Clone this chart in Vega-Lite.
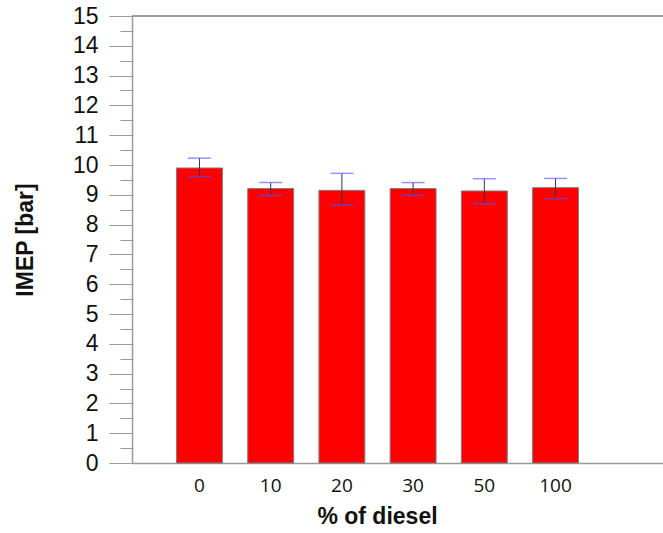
{
  "$schema": "https://vega.github.io/schema/vega-lite/v6.json",
  "autosize": "none",
  "width": 531,
  "height": 447,
  "padding": {"left": 132, "top": 16, "right": 0, "bottom": 70},
  "background": "white",
  "config": {"view": {"stroke": null}},
  "data": {"values": [
    {"pct": "0", "imep": 9.90, "lo": 9.61, "hi": 10.23},
    {"pct": "10", "imep": 9.21, "lo": 8.98, "hi": 9.41},
    {"pct": "20", "imep": 9.15, "lo": 8.65, "hi": 9.72},
    {"pct": "30", "imep": 9.21, "lo": 8.98, "hi": 9.41},
    {"pct": "50", "imep": 9.13, "lo": 8.70, "hi": 9.54},
    {"pct": "100", "imep": 9.24, "lo": 8.87, "hi": 9.55}
  ]},
  "encoding": {
    "x": {
      "field": "pct", "type": "ordinal", "sort": null,
      "scale": {"paddingInner": 0.355, "paddingOuter": 0.906, "align": 0.345},
      "axis": {
        "title": "% of diesel", "labelAngle": 0, "ticks": false,
        "domainColor": "#9a9a9a", "domainWidth": 1.5,
        "labelFont": "Open Sans", "labelFontSize": 19, "labelColor": "#111", "labelPadding": 13,
        "titleFont": "Liberation Sans", "titleFontSize": 23, "titleFontWeight": "bold", "titleColor": "#111",
        "titlePadding": 10, "titleX": 245
      }
    }
  },
  "layer": [
    {
      "mark": {"type": "rule", "color": "#9a9a9a", "strokeWidth": 2},
      "encoding": {"y": {"datum": 15, "type": "quantitative", "scale": {"domain": [0, 15], "nice": false}, "axis": null}, "x": null}
    },
    {
      "mark": {"type": "bar", "color": "#ff0000", "stroke": "#7f7f7f", "strokeWidth": 1},
      "encoding": {
        "y": {
          "field": "imep", "type": "quantitative",
          "scale": {"domain": [0, 15], "nice": false},
          "axis": {
            "title": "IMEP [bar]", "values": [0,1,2,3,4,5,6,7,8,9,10,11,12,13,14,15],
            "grid": false, "tickSize": 23, "tickColor": "#9a9a9a", "domainColor": "#9a9a9a", "domainWidth": 1.5,
            "labelFont": "Liberation Sans", "labelFontSize": 23, "labelColor": "#111", "labelPadding": 11,
            "titleFont": "Liberation Sans", "titleFontSize": 23, "titleFontWeight": "bold", "titleColor": "#111",
            "titlePadding": 35
          }
        }
      }
    },
    {
      "mark": {"type": "rule", "color": "#333355", "strokeWidth": 1},
      "encoding": {
        "y": {"field": "lo", "type": "quantitative", "axis": {"orient": "left", "title": null, "labels": false, "domain": false, "grid": false, "tickSize": 12, "tickColor": "#9a9a9a", "values": [0.5,1.5,2.5,3.5,4.5,5.5,6.5,7.5,8.5,9.5,10.5,11.5,12.5,13.5,14.5]}},
        "y2": {"field": "hi"}
      }
    },
    {
      "mark": {"type": "tick", "orient": "horizontal", "size": 23, "thickness": 1.5, "color": "#6666ff"},
      "encoding": {"y": {"field": "hi", "type": "quantitative", "axis": null}}
    },
    {
      "mark": {"type": "tick", "orient": "horizontal", "size": 23, "thickness": 1.5, "color": "#5050f0"},
      "encoding": {"y": {"field": "lo", "type": "quantitative", "axis": null}}
    }
  ],
  "resolve": {"axis": {"y": "independent"}}
}
